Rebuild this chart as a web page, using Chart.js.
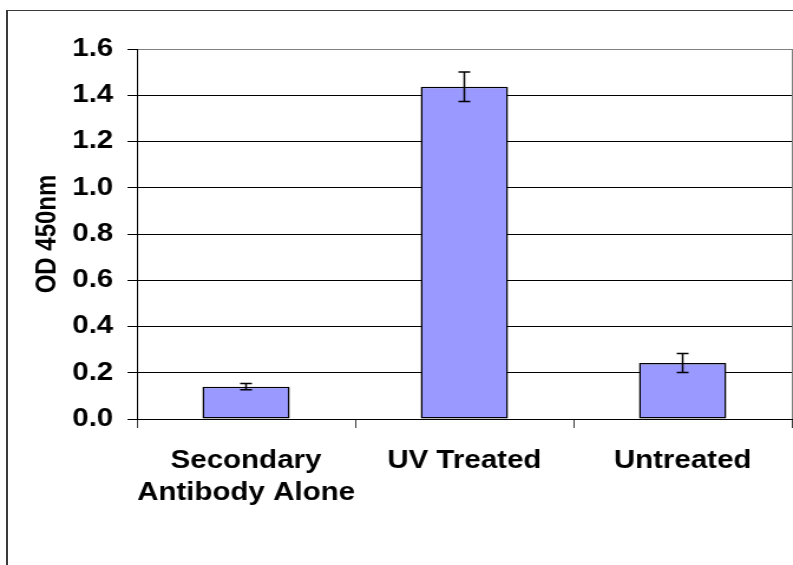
<!DOCTYPE html>
<html>
<head>
<meta charset="utf-8">
<script src="https://cdn.jsdelivr.net/npm/chart.js@4/dist/chart.umd.min.js"></script>
<style>
  html, body { margin: 0; padding: 0; background: #fff; overflow: hidden; }
  #wrap { position: relative; width: 793px; height: 565px; }
  #frame { position: absolute; left: 6px; top: 10px; width: 800px; height: 600px;
           border-left: 2px solid #3a3a3a; border-top: 1px solid #3a3a3a; }
  /* the original picture is stretched sideways, so the canvas is too */
  #chart { position: absolute; left: 0; top: 0; transform: scaleX(1.18); transform-origin: 0 0; }
</style>
</head>
<body>
<div id="wrap">
  <div id="frame"></div>
  <canvas id="chart" width="672" height="565"></canvas>
</div>
<script>
const categories = [['Secondary', 'Antibody Alone'], 'UV Treated', 'Untreated'];
const odValues = [0.14, 1.437, 0.242];
const odErrors = [0.014, 0.064, 0.041];
const yMin = 0;
const yMax = 1.6;
const yStep = 0.2;

const FONT = '"Liberation Sans", Arial, Helvetica, sans-serif';

// error bars drawn from the y scale
const errorBars = {
  id: 'errorBars',
  afterDatasetsDraw(chart) {
    const ctx = chart.ctx;
    const y = chart.scales.y;
    const meta = chart.getDatasetMeta(0);
    ctx.save();
    ctx.strokeStyle = '#000';
    ctx.lineWidth = 1.5;
    meta.data.forEach((bar, i) => {
      const top = y.getPixelForValue(odValues[i] + odErrors[i]);
      const bot = y.getPixelForValue(odValues[i] - odErrors[i]);
      const x = bar.x;
      ctx.beginPath();
      ctx.moveTo(x, top); ctx.lineTo(x, bot);
      ctx.moveTo(x - 5, top); ctx.lineTo(x + 5, top);
      ctx.moveTo(x - 5, bot); ctx.lineTo(x + 5, bot);
      ctx.stroke();
    });
    ctx.restore();
  }
};

let ctxChart = document.getElementById('chart').getContext('2d');

let chart = new Chart(ctxChart, {
  type: 'bar',
  data: {
    labels: categories,
    datasets: [{
      label: 'OD 450nm',
      data: odValues,
      backgroundColor: '#9999FF',
      borderColor: '#000',
      borderWidth: 1.5,
      borderSkipped: false,
      barPercentage: 0.4,
      categoryPercentage: 1
    }]
  },
  options: {
    responsive: false,
    devicePixelRatio: 1,
    animation: false,
    layout: { padding: { left: 0, right: 1, top: 49, bottom: 0 } },
    plugins: {
      legend: { display: false },
      tooltip: { enabled: false }
    },
    scales: {
      x: {
        grid: {
          offset: true,
          color: (c) => c.tick ? 'rgba(0,0,0,0)' : '#808080',
          tickColor: '#404040',
          tickLength: 9,
          lineWidth: 1
        },
        border: { display: true, color: '#000', width: 1 },
        ticks: {
          color: '#000',
          padding: 17,
          autoSkip: false,
          maxRotation: 0,
          font: { family: FONT, size: 25, weight: 'bold', lineHeight: 1.27 }
        },
        afterFit: (scale) => { scale.height = 146; }
      },
      y: {
        min: yMin,
        max: yMax,
        grid: {
          color: (c) => c.tick && c.tick.value === yMax ? '#808080' : '#000',
          tickColor: '#000',
          tickLength: 8,
          lineWidth: 1
        },
        border: { display: true, color: '#000', width: 1 },
        ticks: {
          stepSize: yStep,
          color: '#000',
          padding: 12,
          font: { family: FONT, size: 25, weight: 'bold' },
          callback: (v) => Number(v).toFixed(1)
        },
        title: {
          display: true,
          text: 'OD 450nm',
          color: '#000',
          padding: { top: 26, bottom: 0 },
          font: { family: FONT, size: 24, weight: 'bold', lineHeight: 1.2 }
        },
        afterFit: (scale) => { scale.width = 116; }
      }
    }
  },
  plugins: [errorBars]
});
</script>
</body>
</html>
